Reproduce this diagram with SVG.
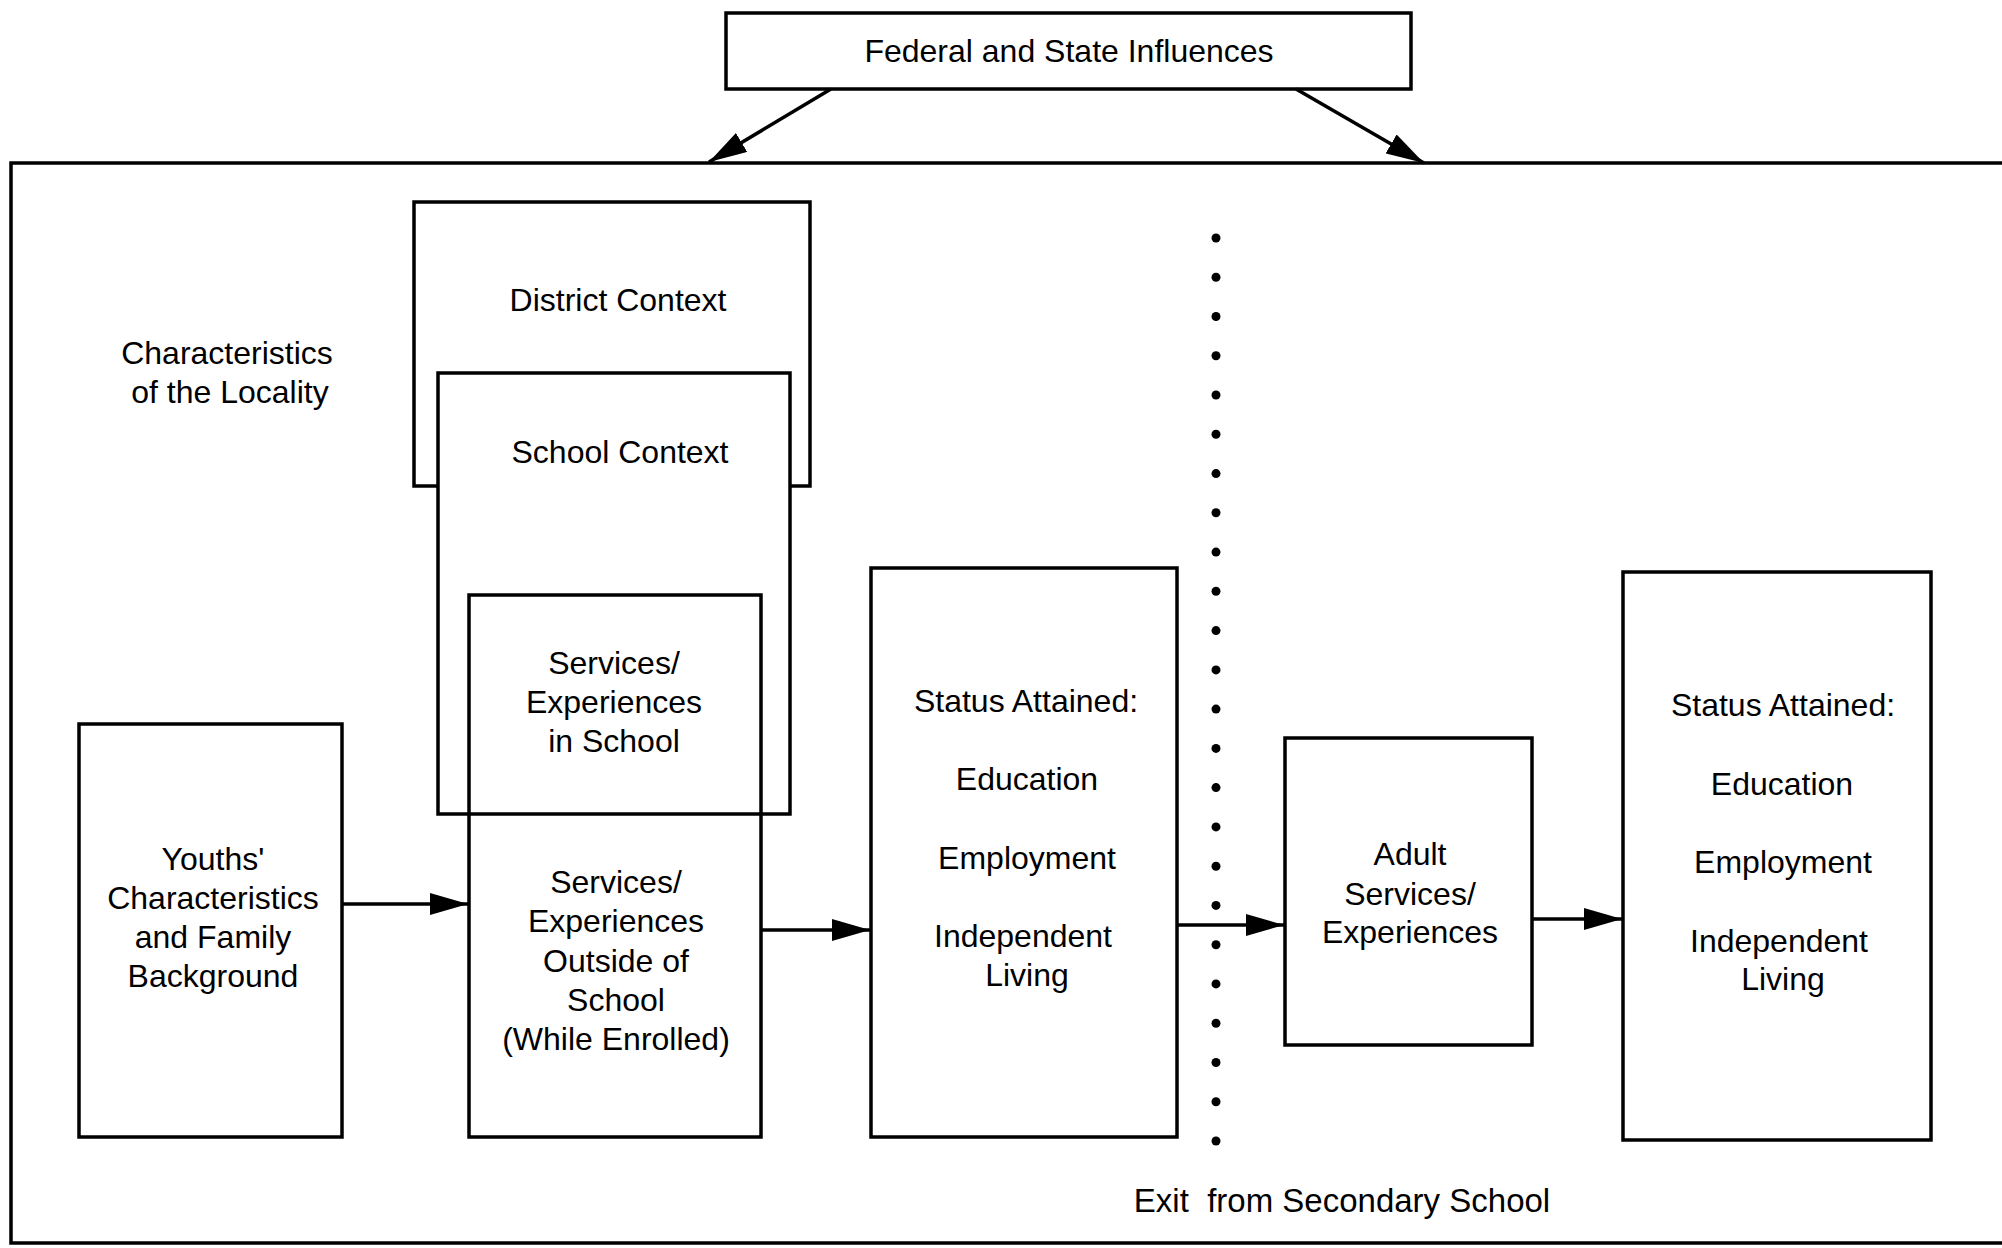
<svg xmlns="http://www.w3.org/2000/svg" width="2002" height="1248" viewBox="0 0 2002 1248">
<style>
  .box { fill: #fff; stroke: #000; stroke-width: 3.5; }
  .open { fill: none; stroke: #000; stroke-width: 3.5; }
  .conn { fill: none; stroke: #000; stroke-width: 3.5; }
  .t { font-family: "Liberation Sans", Arial, sans-serif; font-size: 32px; fill: #000; text-anchor: middle; }
  .dot { fill: #000; }
</style>
<defs>
  <marker id="ah" markerUnits="userSpaceOnUse" markerWidth="38" markerHeight="22" refX="38" refY="11" orient="auto">
    <path d="M0,0 L38,11 L0,22 Z" fill="#000"/>
  </marker>
</defs>
<rect width="2002" height="1248" fill="#fff"/>

<g id="frame">
  <path class="open" d="M2002,163 H11 V1243 H2002"/>
</g>

<g id="federal">
  <rect class="box" x="726" y="13" width="685" height="76"/>
  <text class="t" x="1069" y="62">Federal and State Influences</text>
</g>

<g id="locality">
  <text class="t" x="227" y="364">Characteristics</text>
  <text class="t" x="230" y="403">of the Locality</text>
</g>

<g id="district">
  <rect class="box" x="414" y="202" width="396" height="284"/>
  <text class="t" x="618" y="311">District Context</text>
</g>

<g id="school">
  <rect class="box" x="438" y="373" width="352" height="441"/>
  <text class="t" x="620" y="463">School Context</text>
</g>

<g id="services">
  <rect class="open" x="469" y="595" width="292" height="542"/>
  <text class="t" x="614" y="674">Services/</text>
  <text class="t" x="614" y="713">Experiences</text>
  <text class="t" x="614" y="752">in School</text>
  <text class="t" x="616" y="893">Services/</text>
  <text class="t" x="616" y="932">Experiences</text>
  <text class="t" x="616" y="972">Outside of</text>
  <text class="t" x="616" y="1011">School</text>
  <text class="t" x="616" y="1050">(While Enrolled)</text>
</g>

<g id="youths">
  <rect class="box" x="79" y="724" width="263" height="413"/>
  <text class="t" x="213" y="870">Youths'</text>
  <text class="t" x="213" y="909">Characteristics</text>
  <text class="t" x="213" y="948">and Family</text>
  <text class="t" x="213" y="987">Background</text>
</g>

<g id="status1">
  <rect class="box" x="871" y="568" width="306" height="569"/>
  <text class="t" x="1026" y="712">Status Attained:</text>
  <text class="t" x="1027" y="790">Education</text>
  <text class="t" x="1027" y="869">Employment</text>
  <text class="t" x="1023" y="947">Independent</text>
  <text class="t" x="1027" y="986">Living</text>
</g>

<g id="adult">
  <rect class="box" x="1285" y="738" width="247" height="307"/>
  <text class="t" x="1410" y="865">Adult</text>
  <text class="t" x="1410" y="905">Services/</text>
  <text class="t" x="1410" y="943">Experiences</text>
</g>

<g id="status2">
  <rect class="box" x="1623" y="572" width="308" height="568"/>
  <text class="t" x="1783" y="716">Status Attained:</text>
  <text class="t" x="1782" y="795">Education</text>
  <text class="t" x="1783" y="873">Employment</text>
  <text class="t" x="1779" y="952">Independent</text>
  <text class="t" x="1783" y="990">Living</text>
</g>

<g id="exit">
  <text class="t" x="1342" y="1212" style="font-size:33px">Exit&#160; from Secondary School</text>
</g>

<g id="dots">
  <circle class="dot" cx="1216" cy="238" r="4.5"/>
  <circle class="dot" cx="1216" cy="277.3" r="4.5"/>
  <circle class="dot" cx="1216" cy="316.5" r="4.5"/>
  <circle class="dot" cx="1216" cy="355.8" r="4.5"/>
  <circle class="dot" cx="1216" cy="395" r="4.5"/>
  <circle class="dot" cx="1216" cy="434.3" r="4.5"/>
  <circle class="dot" cx="1216" cy="473.6" r="4.5"/>
  <circle class="dot" cx="1216" cy="512.8" r="4.5"/>
  <circle class="dot" cx="1216" cy="552.1" r="4.5"/>
  <circle class="dot" cx="1216" cy="591.3" r="4.5"/>
  <circle class="dot" cx="1216" cy="630.6" r="4.5"/>
  <circle class="dot" cx="1216" cy="669.9" r="4.5"/>
  <circle class="dot" cx="1216" cy="709.1" r="4.5"/>
  <circle class="dot" cx="1216" cy="748.4" r="4.5"/>
  <circle class="dot" cx="1216" cy="787.6" r="4.5"/>
  <circle class="dot" cx="1216" cy="826.9" r="4.5"/>
  <circle class="dot" cx="1216" cy="866.2" r="4.5"/>
  <circle class="dot" cx="1216" cy="905.4" r="4.5"/>
  <circle class="dot" cx="1216" cy="944.7" r="4.5"/>
  <circle class="dot" cx="1216" cy="983.9" r="4.5"/>
  <circle class="dot" cx="1216" cy="1023.2" r="4.5"/>
  <circle class="dot" cx="1216" cy="1062.5" r="4.5"/>
  <circle class="dot" cx="1216" cy="1101.7" r="4.5"/>
  <circle class="dot" cx="1216" cy="1141" r="4.5"/>
</g>

<g id="connectors">
  <path class="conn" d="M831,89 L709,162" marker-end="url(#ah)"/>
  <path class="conn" d="M1296,89 L1424,163" marker-end="url(#ah)"/>
  <path class="conn" d="M342,904 H468" marker-end="url(#ah)"/>
  <path class="conn" d="M761,930 H870" marker-end="url(#ah)"/>
  <path class="conn" d="M1177,925 H1284" marker-end="url(#ah)"/>
  <path class="conn" d="M1532,919 H1622" marker-end="url(#ah)"/>
</g>
</svg>
